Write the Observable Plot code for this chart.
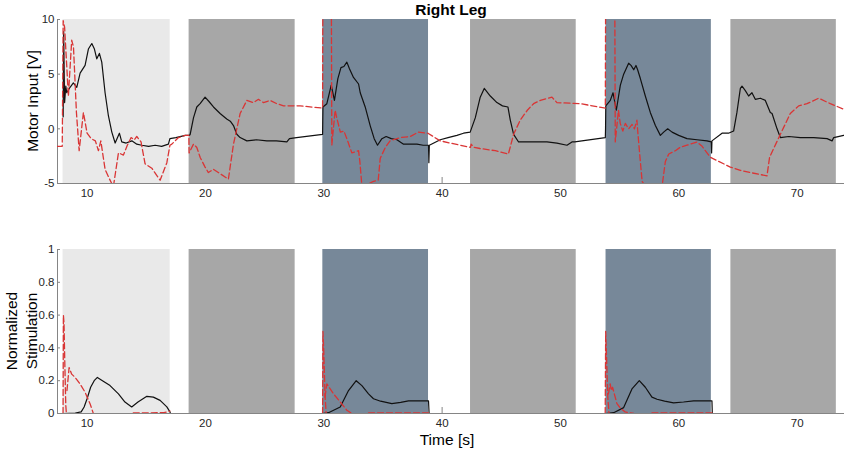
<!DOCTYPE html>
<html><head><meta charset="utf-8">
<script src="https://cdn.jsdelivr.net/npm/d3@7"></script>
<script src="https://cdn.jsdelivr.net/npm/@observablehq/plot@0.6"></script>
<style>
body{margin:0;background:#fff;}
#chart{position:relative;width:851px;height:453px;font-family:"Liberation Sans",Arial,sans-serif;color:#000;overflow:hidden;}
.lbl{position:absolute;font-size:15.5px;line-height:1;white-space:nowrap;transform:translate(-50%,-50%);}
.rot{transform:translate(-50%,-50%) rotate(-90deg);text-align:center;}
.panel{position:absolute;left:0;}
</style></head><body>
<div id="chart"></div>
<script>
// ---- data ----
const xDomain = [7.5, 74];
const xTicks = [10, 20, 30, 40, 50, 60, 70];
const topDomain = [-5, 10];
const topTicks = [-5, 0, 5, 10];
const bottomDomain = [0, 1];
const bottomTicks = [0, 0.2, 0.4, 0.6, 0.8, 1];

const bandStart = [7.97, 18.62, 29.92, 42.4, 53.85, 64.4];
const bandEnd = [17.02, 27.58, 38.85, 51.33, 62.75, 73.31];
const bandKind = ["rest", "stand", "stim", "stand", "stim", "stand"];
const bandKinds = ["rest", "stand", "stim"];
const bandFills = ["#e9e9e9", "#a7a7a7", "#778899"];

const topBlack = [
[7.98,1.1],[8.02,8.9],[8.1,2.4],[8.2,3.9],[8.28,3.3],[8.56,3.8],[8.84,4.2],[9.13,3.8],[9.41,5.1],[9.83,5.8],[10.11,7.3],[10.4,7.8],[10.62,7.3],[10.82,6.4],[11.04,6.9],[11.24,6.1],[11.52,3.3],[11.8,1.2],[12.09,-0.3],[12.37,-1.3],[12.73,-0.4],[12.93,-1.2],[13.3,-1.3],[13.78,-1.1],[14.2,-1.4],[14.62,-1.5],[15.2,-1.6],[15.75,-1.5],[16.3,-1.6],[16.87,-1.4],[17.0,-0.9],[17.5,-0.8],[18.3,-0.6],[18.65,-0.6],[18.71,-0.5],[18.99,1.0],[19.27,2.0],[19.55,2.3],[19.97,2.9],[20.3,2.5],[20.68,2.0],[21.24,1.4],[21.8,0.9],[22.1,0.7],[22.37,0.3],[22.65,-0.5],[22.93,-0.8],[23.5,-1.1],[24.3,-1.0],[25.19,-1.1],[26.0,-1.1],[26.88,-1.2],[27.1,-0.9],[27.7,-0.8],
[29.9,-0.5],[29.93,2.0],[30.26,2.3],[30.63,4.0],[30.9,2.6],[31.19,4.6],[31.45,5.6],[31.7,5.7],[31.95,6.1],[32.17,5.5],[32.51,4.7],[32.94,4.1],[33.08,3.3],[33.5,2.0],[33.92,0.3],[34.26,-0.9],[34.54,-1.5],[34.91,-0.9],[35.27,-0.7],[35.7,-0.9],[36.18,-1.0],[36.74,-1.4],[37.3,-1.4],[37.87,-1.4],[38.4,-1.5],[38.85,-1.5],[38.88,-3.1],[38.92,-1.5],[39.84,-1.0],[40.5,-0.8],[41.25,-0.6],[41.81,-0.4],[42.37,-0.3],[42.8,1.0],[43.22,2.9],[43.56,3.7],[44.07,3.0],[44.63,2.4],[45.1,2.1],[45.56,2.0],[45.76,0.8],[46.04,-0.5],[46.46,-1.2],[47.5,-1.2],[48.86,-1.2],[49.7,-1.3],[50.55,-1.5],[50.97,-1.2],[51.2,-1.2],
[53.79,-0.8],[53.81,0.1],[53.83,2.1],[54.21,2.6],[54.44,3.3],[54.72,1.7],[55.06,4.0],[55.34,5.0],[55.76,6.0],[55.96,5.8],[56.19,5.4],[56.38,5.8],[56.52,5.4],[56.75,4.6],[57.17,3.0],[57.59,1.5],[58.02,0.3],[58.44,-0.6],[58.72,-0.3],[59.06,0.0],[59.43,-0.3],[59.99,-0.6],[60.69,-0.9],[61.54,-1.0],[62.38,-1.1],[62.74,-1.2],[62.77,-2.2],[62.8,-1.1],[63.65,-0.4],[64.2,-0.4],[64.63,-0.2],[64.91,1.5],[65.2,3.7],[65.34,3.9],[65.62,3.5],[65.9,3.0],[66.18,3.3],[66.46,2.7],[66.9,2.8],[67.31,2.6],[67.73,1.5],[67.88,1.4],[68.3,0.0],[68.58,-0.8],[69.3,-0.7],[70.27,-0.8],[71.4,-0.8],[72.53,-0.9],[72.95,-1.1],[73.09,-0.8],[73.93,-0.6]
];

const topRed = [
[7.5,-1.6],[7.9,-1.6],[7.98,9.9],[8.1,9.3],[8.42,3.0],[8.7,8.1],[8.85,7.5],[9.1,1.5],[9.33,-2.0],[9.69,1.5],[10.0,-0.4],[10.35,-0.9],[10.7,-1.1],[10.96,-2.0],[11.16,-1.1],[11.52,-3.7],[11.9,-4.6],[12.22,-5.3],[12.65,-2.2],[13.07,-2.4],[13.4,-1.5],[13.72,-0.8],[14.0,-1.0],[14.2,-0.7],[14.56,-1.2],[14.9,-3.2],[15.47,-3.6],[16.17,-4.7],[16.74,-3.1],[17.0,-1.5],[17.16,-1.4],[17.72,-0.8],[18.28,-0.6],[18.6,-0.6],[18.62,-2.2],[18.99,-1.4],[19.27,-1.7],[19.55,-2.6],[19.97,-3.5],[20.25,-4.0],[20.68,-3.7],[21.24,-4.1],[21.94,-4.6],[22.37,-1.4],[22.93,1.4],[23.5,2.6],[24.06,2.4],[24.48,2.7],[24.9,2.4],[25.47,2.6],[26.03,2.3],[26.6,2.1],[28.0,2.1],
[29.9,1.9],[29.95,25],[30.6,25],[30.68,-1.5],[30.96,1.7],[31.1,1.0],[31.4,-0.3],[31.7,-0.2],[31.95,-0.9],[32.37,-2.2],[32.94,-2.0],[33.05,-3.0],[33.22,-5.2],[33.6,-5.1],[34.2,-4.8],[34.6,-4.7],[34.77,-2.7],[35.2,-1.7],[35.6,-1.1],[36.46,-0.8],[37.3,-0.7],[38.0,-0.3],[38.8,-0.4],[39.84,-1.1],[42.4,-1.7],[42.45,-1.4],[42.7,-1.7],[43.2,-1.8],[44.5,-2.0],[45.6,-2.3],[46.04,-0.5],[46.6,0.8],[47.2,1.7],[47.73,2.3],[48.3,2.6],[49.28,2.9],[49.7,2.4],[51.67,2.3],
[53.79,1.9],[53.85,25],[54.55,25],[54.63,-1.2],[54.9,1.7],[55.05,0.5],[55.27,-0.2],[55.48,0.5],[55.76,0.0],[56.05,0.4],[56.25,0.0],[56.46,0.8],[56.55,-0.5],[56.75,-3.0],[56.9,-4.8],[57.2,-5.3],[58.58,-5.3],[58.86,-3.0],[59.15,-2.3],[59.71,-2.0],[60.1,-1.7],[60.69,-1.5],[61.54,-1.2],[61.97,-1.6],[62.66,-2.6],[64.35,-3.5],[65.2,-3.8],[66.04,-4.0],[67.45,-4.3],[67.67,-2.6],[68.58,-0.5],[69.42,1.4],[70.13,2.1],[70.83,2.3],[71.82,2.8],[72.8,2.3],[73.93,1.8]
];

const bottomBlack = [
[7.98,0],[9.0,0.003],[9.5,0.01],[9.75,0.04],[10.0,0.09],[10.3,0.16],[10.6,0.2],[10.87,0.22],[11.3,0.2],[11.94,0.17],[12.65,0.12],[13.2,0.07],[13.77,0.04],[14.3,0.07],[15.05,0.105],[15.6,0.1],[16.17,0.08],[16.74,0.04],[17.0,0.01],[17.05,0],[17.06,null],
[19.5,0],[27.6,0],[27.61,null],
[29.9,0],[30.4,0.005],[31.39,0.04],[32.09,0.14],[32.74,0.2],[33.22,0.17],[33.78,0.12],[34.2,0.09],[34.8,0.075],[35.75,0.06],[36.5,0.068],[37.16,0.077],[38.85,0.077],[38.9,0],[38.91,null],
[41.3,0],[51.4,0],[51.41,null],
[53.8,0],[54.5,0.005],[55.34,0.036],[56.04,0.15],[56.66,0.2],[57.17,0.16],[57.73,0.1],[58.16,0.087],[58.8,0.075],[59.56,0.065],[60.4,0.07],[61.25,0.077],[62.8,0.077],[62.83,0],[62.84,null],
[64.9,0],[74,0]
];

const bottomRedA = [
[7.97,0],[8.0,0.6],[8.05,0.55],[8.12,0.3],[8.2,0.05],[8.25,0],[8.26,null],
[29.9,0],[29.93,0.5],[30.0,0.38],[30.1,0.12],[30.2,0],[30.21,null],
[53.78,0],[53.82,0.5],[53.9,0.33],[54.0,0.1],[54.1,0]
];

const bottomRedB = [
[8.3,0.14],[8.48,0.28],[8.7,0.24],[8.99,0.22],[9.41,0.18],[9.83,0.13],[10.25,0.06],[10.53,0],[10.54,null],
[13.9,0.003],[16.5,0.005],[17.0,0.015],[17.01,null],
[30.1,0.1],[30.26,0.18],[30.45,0.16],[30.82,0.12],[31.39,0.07],[31.95,0.02],[32.37,0],[32.38,null],
[33.78,0.004],[38.85,0.004],[38.86,null],
[54.05,0.12],[54.2,0.18],[54.3,0.14],[54.4,0.16],[54.77,0.06],[55.1,0.03],[55.46,0.01],[56.2,0],[56.21,null],
[57.73,0.004],[62.8,0.004]
];

// ---- drawing ----
const axisGray = "#858585";
const red = "#d93535";
const bands = bandStart.map((s, i) => ({start: s, end: bandEnd[i], kind: bandKind[i]}));

function panel({yDomain, yTicks, height, marginBottom, black, reds}) {
  return Plot.plot({
    width: 851, height, marginTop: 19, marginBottom, marginLeft: 57, marginRight: 7,
    style: {fontFamily: '"Liberation Sans", Arial, sans-serif', fontSize: "11.5px", color: "#262626", background: "transparent"},
    x: {domain: xDomain},
    y: {domain: yDomain},
    color: {domain: bandKinds, range: bandFills},
    marks: [
      Plot.axisX(xTicks, {tickSize: 6, dy: -6, tickFormat: () => "", stroke: axisGray, label: null}),
      Plot.axisY(yTicks, {tickSize: 3, dx: 3, tickFormat: () => "", stroke: axisGray, label: null}),
      Plot.rect(bands, {x1: "start", x2: "end", y1: yDomain[0], y2: yDomain[1], fill: "kind"}),
      Plot.axisX(xTicks, {tickSize: 0, tickPadding: 5, tickFormat: d => String(d), fill: "#262626", label: null}),
      Plot.axisY(yTicks, {tickSize: 0, tickPadding: 3, tickFormat: d => String(d), fill: "#262626", label: null}),
      Plot.ruleX([xDomain[0]], {stroke: axisGray}),
      Plot.ruleY([yDomain[0]], {stroke: axisGray}),
      Plot.line(black, {x: d => d[0], y: d => d[1], stroke: "#111", strokeWidth: 1.2, clip: true}),
      ...reds.map(r => Plot.line(r, {x: d => d[0], y: d => d[1], stroke: red, strokeWidth: 1.3, strokeDasharray: "6,3", clip: true}))
    ]
  });
}

const chart = document.getElementById("chart");
const top1 = panel({yDomain: topDomain, yTicks: topTicks, height: 200, marginBottom: 17, black: topBlack, reds: [topRed]});
top1.classList.add("panel"); top1.style.top = "0px";
const bot1 = panel({yDomain: bottomDomain, yTicks: bottomTicks, height: 223, marginBottom: 40, black: bottomBlack, reds: [bottomRedA, bottomRedB]});
bot1.classList.add("panel"); bot1.style.top = "230px";
chart.appendChild(top1);
chart.appendChild(bot1);

function label(text, x, y, cls, extra) {
  const d = document.createElement("div");
  d.className = "lbl" + (cls ? " " + cls : "");
  d.style.left = x + "px"; d.style.top = y + "px";
  if (extra) Object.assign(d.style, extra);
  d.innerHTML = text;
  chart.appendChild(d);
}
label("Right Leg", 451, 9.5, "", {fontWeight: "bold"});
label("Motor Input [V]", 33, 101, "rot");
label("Normalized<br>Stimulation", 20.5, 331, "rot", {lineHeight: "19.5px"});
label("Time [s]", 447, 440, "");
</script>
</body></html>
